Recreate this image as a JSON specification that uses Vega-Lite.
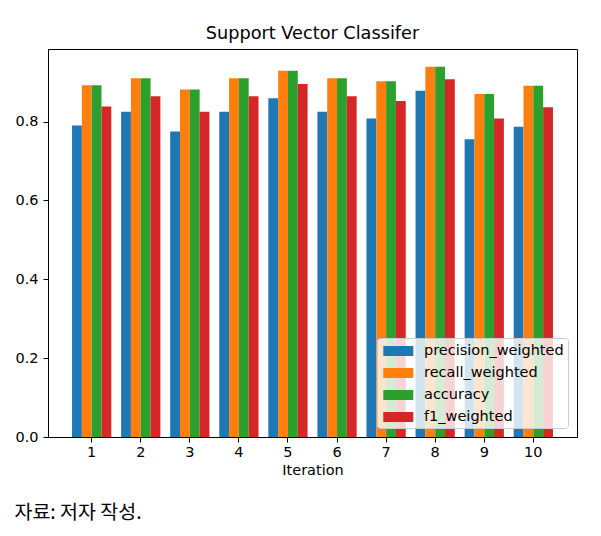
{
  "$schema": "https://vega.github.io/schema/vega-lite/v6.json",
  "padding": {"left": 14, "top": 24, "right": 10, "bottom": 5},
  "title": {"text": "자료: 저자 작성.", "orient": "bottom", "anchor": "start", "frame": "bounds", "font": "Noto Sans CJK KR", "fontSize": 19.5, "fontWeight": "normal", "color": "#000000", "offset": 26},
  "config": {
    "font": "DejaVu Sans",
    "view": {"stroke": "#000000", "strokeWidth": 1},
    "axis": {"grid": false, "domainColor": "#000000", "tickColor": "#000000", "labelColor": "#000000", "titleColor": "#000000", "labelFont": "DejaVu Sans", "titleFont": "DejaVu Sans", "labelFontSize": 14.5, "titleFontSize": 14.5, "titleFontWeight": "normal", "tickSize": 5, "domainWidth": 1, "tickWidth": 1}
  },
  "resolve": {"legend": {"color": "independent"}, "scale": {"color": "independent"}},
  "data": {"values": [
    {"iteration": 1, "metric": "precision_weighted", "value": 0.790},
    {"iteration": 1, "metric": "recall_weighted", "value": 0.892},
    {"iteration": 1, "metric": "accuracy", "value": 0.892},
    {"iteration": 1, "metric": "f1_weighted", "value": 0.838},
    {"iteration": 2, "metric": "precision_weighted", "value": 0.825},
    {"iteration": 2, "metric": "recall_weighted", "value": 0.910},
    {"iteration": 2, "metric": "accuracy", "value": 0.910},
    {"iteration": 2, "metric": "f1_weighted", "value": 0.864},
    {"iteration": 3, "metric": "precision_weighted", "value": 0.775},
    {"iteration": 3, "metric": "recall_weighted", "value": 0.881},
    {"iteration": 3, "metric": "accuracy", "value": 0.881},
    {"iteration": 3, "metric": "f1_weighted", "value": 0.825},
    {"iteration": 4, "metric": "precision_weighted", "value": 0.825},
    {"iteration": 4, "metric": "recall_weighted", "value": 0.910},
    {"iteration": 4, "metric": "accuracy", "value": 0.910},
    {"iteration": 4, "metric": "f1_weighted", "value": 0.864},
    {"iteration": 5, "metric": "precision_weighted", "value": 0.859},
    {"iteration": 5, "metric": "recall_weighted", "value": 0.929},
    {"iteration": 5, "metric": "accuracy", "value": 0.929},
    {"iteration": 5, "metric": "f1_weighted", "value": 0.895},
    {"iteration": 6, "metric": "precision_weighted", "value": 0.825},
    {"iteration": 6, "metric": "recall_weighted", "value": 0.910},
    {"iteration": 6, "metric": "accuracy", "value": 0.910},
    {"iteration": 6, "metric": "f1_weighted", "value": 0.864},
    {"iteration": 7, "metric": "precision_weighted", "value": 0.808},
    {"iteration": 7, "metric": "recall_weighted", "value": 0.902},
    {"iteration": 7, "metric": "accuracy", "value": 0.902},
    {"iteration": 7, "metric": "f1_weighted", "value": 0.852},
    {"iteration": 8, "metric": "precision_weighted", "value": 0.878},
    {"iteration": 8, "metric": "recall_weighted", "value": 0.939},
    {"iteration": 8, "metric": "accuracy", "value": 0.939},
    {"iteration": 8, "metric": "f1_weighted", "value": 0.907},
    {"iteration": 9, "metric": "precision_weighted", "value": 0.755},
    {"iteration": 9, "metric": "recall_weighted", "value": 0.870},
    {"iteration": 9, "metric": "accuracy", "value": 0.870},
    {"iteration": 9, "metric": "f1_weighted", "value": 0.808},
    {"iteration": 10, "metric": "precision_weighted", "value": 0.787},
    {"iteration": 10, "metric": "recall_weighted", "value": 0.891},
    {"iteration": 10, "metric": "accuracy", "value": 0.891},
    {"iteration": 10, "metric": "f1_weighted", "value": 0.836}
  ]},
  "vconcat": [
    {
      "title": {"text": "Support Vector Classifer", "font": "DejaVu Sans", "fontSize": 17.7, "fontWeight": "normal", "color": "#000000", "offset": 6},
      "width": 529,
      "height": 388,
      "mark": {"type": "bar", "strokeWidth": 0},
      "encoding": {
        "x": {"field": "iteration", "type": "ordinal", "title": "Iteration",
              "scale": {"paddingInner": 0.2, "paddingOuter": 0.49},
              "axis": {"labelAngle": 0, "labelPadding": 3, "titlePadding": 5}},
        "xOffset": {"field": "metric", "type": "nominal",
                    "sort": ["precision_weighted", "recall_weighted", "accuracy", "f1_weighted"],
                    "scale": {"paddingInner": 0, "paddingOuter": 0}},
        "y": {"field": "value", "type": "quantitative", "title": null,
              "scale": {"domain": [0, 0.984], "nice": false, "zero": true},
              "axis": {"values": [0, 0.2, 0.4, 0.6, 0.8], "format": ".1f", "labelPadding": 5}},
        "color": {"field": "metric", "type": "nominal",
                  "scale": {"domain": ["precision_weighted", "recall_weighted", "accuracy", "f1_weighted"],
                            "range": ["#1f77b4", "#ff7f0e", "#2ca02c", "#d62728"]},
                  "legend": {"title": null, "orient": "bottom-right", "offset": 9,
                             "fillColor": "rgba(255,255,255,0.8)", "strokeColor": "#cccccc", "cornerRadius": 3,
                             "padding": 4,
                             "symbolType": "M-1.667,-0.556L1.667,-0.556L1.667,0.556L-1.667,0.556Z",
                             "symbolSize": 324, "symbolStrokeWidth": 0, "symbolOpacity": 1,
                             "symbolOffset": 8.3, "labelOffset": 16.7, "rowPadding": 6,
                             "labelFont": "DejaVu Sans", "labelFontSize": 14.5, "labelColor": "#000000"}}
      }
    }
  ]
}
